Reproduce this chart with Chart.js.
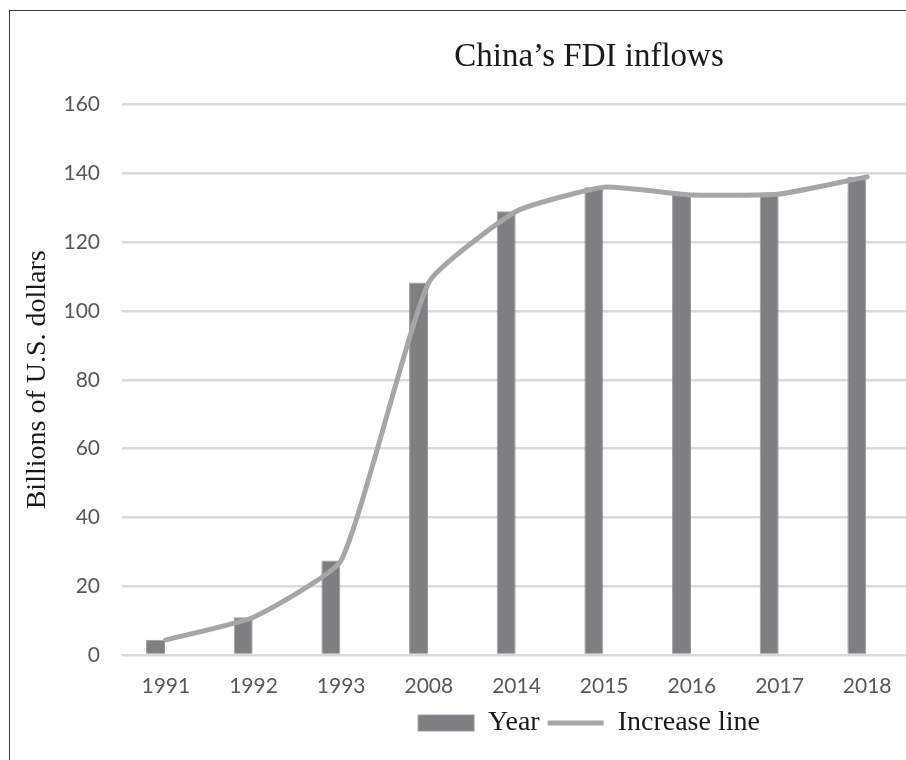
<!DOCTYPE html>
<html>
<head>
<meta charset="utf-8">
<title>China's FDI inflows</title>
<script src="https://cdn.jsdelivr.net/npm/chart.js@4/dist/chart.umd.min.js"></script>
<style>
  html, body { margin: 0; padding: 0; background: #fff; overflow: hidden; width: 906px; height: 760px; }
  #wrap { position: relative; width: 906px; height: 760px; overflow: hidden; }
  #frame { position: absolute; left: 9px; top: 10px; width: 1200px; height: 1000px; border: 1px solid #3a3a3a; }
  #box { position: absolute; left: 0; top: 0; width: 1166px; height: 760px; }
</style>
</head>
<body>
<div id="wrap">
  <div id="frame"></div>
  <div id="box"><canvas id="fdiChart"></canvas></div>
</div>
<script>
// FDI inflows, billions of US dollars
const years = ['1991', '1992', '1993', '2008', '2014', '2015', '2016', '2017', '2018'];
const fdiInflows = [4.4, 11, 27.5, 108.3, 129, 136, 133.7, 134, 139];
const increaseLine = [4.4, 11, 27.5, 108.3, 129, 136, 133.7, 134, 139];
const yTicks = [0, 20, 40, 60, 80, 100, 120, 140, 160];

const serif = '"Liberation Serif", "Times New Roman", serif';
const sans = 'Lato, "Open Sans", sans-serif';

document.addEventListener("DOMContentLoaded", function() {
    const ctx = document.getElementById('fdiChart').getContext('2d');
    new Chart(ctx, {
        type: 'bar',
        data: {
            labels: years,
            datasets: [{
                label: 'Year',
                data: fdiInflows,
                backgroundColor: '#7f7f83',
                borderColor: '#9a9a9d',
                borderWidth: 1,
                pointStyle: 'rect',
                order: 1
            }, {
                // empty second slot, keeps the bars left of the category centre
                label: '',
                data: years.map(() => null),
                backgroundColor: 'rgba(0,0,0,0)',
                order: 2
            }, {
                type: 'line',
                label: 'Increase line',
                data: increaseLine,
                borderColor: '#a6a6a9',
                backgroundColor: '#a6a6a9',
                borderWidth: 5,
                borderCapStyle: 'round',
                pointRadius: 0,
                pointStyle: 'line',
                tension: 0.15,
                order: 0
            }]
        },
        options: {
            responsive: true,
            maintainAspectRatio: false,
            animation: false,
            layout: { padding: { left: 12, top: 28, bottom: 13 } },
            datasets: {
                bar: { categoryPercentage: 0.47, barPercentage: 0.92 }
            },
            plugins: {
                title: {
                    display: true,
                    text: 'China’s FDI inflows',
                    color: '#1a1a1a',
                    font: { family: serif, size: 33, weight: 'normal' },
                    padding: { top: 10, bottom: 27 }
                },
                legend: {
                    position: 'bottom',
                    labels: {
                        usePointStyle: true,
                        pointStyleWidth: 56,
                        boxHeight: 16,
                        padding: 8,
                        color: '#1a1a1a',
                        font: { family: serif, size: 28 },
                        filter: item => item.text !== '',
                        sort: (a, b) => a.datasetIndex - b.datasetIndex
                    }
                },
                tooltip: { enabled: false }
            },
            scales: {
                x: {
                    grid: { display: false, drawTicks: false },
                    border: { display: false },
                    ticks: { color: '#595959', font: { family: sans, size: 21 }, padding: 19 },
                    afterFit: s => { s.height = 46; }
                },
                y: {
                    min: 0,
                    max: 160,
                    afterBuildTicks: s => { s.ticks = yTicks.map(v => ({ value: v })); },
                    afterFit: s => { s.width = 110; },
                    grid: { color: '#d9d9d9', lineWidth: 2.5, drawTicks: false },
                    border: { display: false },
                    ticks: { color: '#595959', font: { family: sans, size: 21 }, padding: 22 },
                    title: {
                        display: true,
                        text: 'Billions of U.S. dollars',
                        color: '#1a1a1a',
                        font: { family: serif, size: 28 },
                        padding: { top: 9, bottom: 0 }
                    }
                },
                // blank right-hand axis, reserves the space to the right of the plot
                yRight: {
                    position: 'right',
                    grid: { display: false },
                    border: { display: false },
                    ticks: { display: false },
                    afterFit: s => { s.width = 255; }
                }
            }
        }
    });
});
</script>
</body>
</html>
